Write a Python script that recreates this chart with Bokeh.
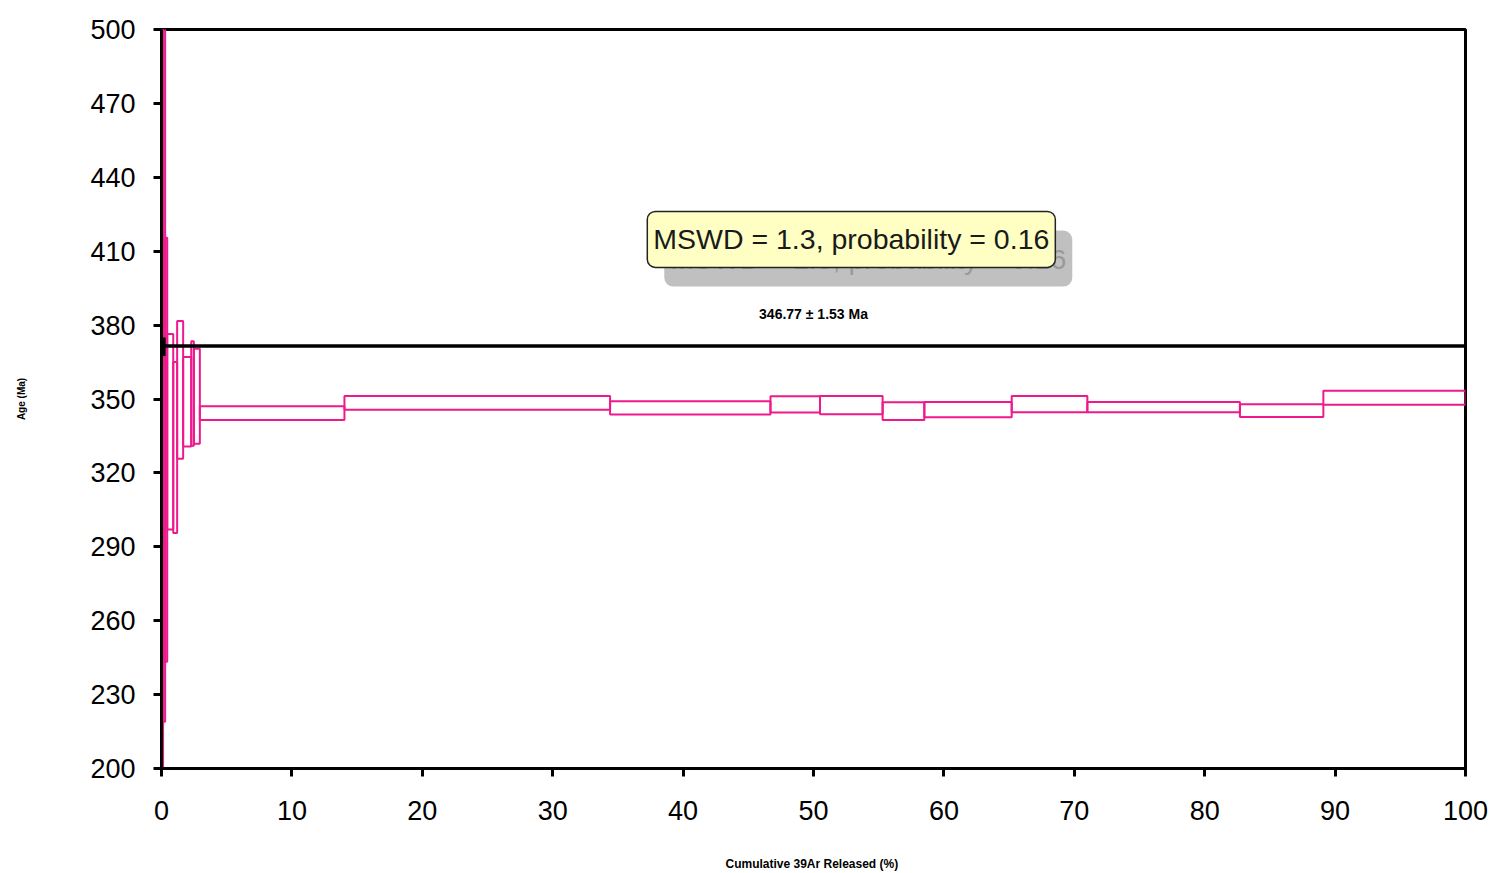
from bokeh.plotting import figure
from bokeh.models import Range1d, FixedTicker, Label
from bokeh.embed import file_html
from bokeh.resources import INLINE

# Incremental heating steps: cumulative 39Ar released (%) boundaries,
# step ages (Ma) and their 2-sigma half-widths (Ma)
step_edges = [0, 0.12, 0.28, 0.44, 0.90, 1.20, 1.66, 2.28, 2.48, 2.94,
              14.03, 34.4, 46.7, 50.5, 55.3, 58.5, 65.2, 71.0, 82.7, 89.1, 100]
step_age = [350.0, 389.5, 329.4, 336.7, 330.3, 353.7, 348.9, 352.2, 351.1,
            344.3, 348.4, 346.4, 347.8, 347.5, 345.1, 345.7, 347.9, 346.7, 345.3, 350.5]
step_err = [300.0, 170.5, 86.1, 39.7, 34.7, 28.0, 18.2, 21.2, 19.3,
            2.8, 2.8, 2.7, 3.3, 3.7, 3.6, 3.1, 3.3, 2.1, 2.6, 2.8]

reference_age = 371.5
plateau_age = 346.77
plateau_err = 1.53
mswd = 1.3
probability = 0.16

x_ticks = [0, 10, 20, 30, 40, 50, 60, 70, 80, 90, 100]
y_ticks = [200, 230, 260, 290, 320, 350, 380, 410, 440, 470, 500]

PINK = "#EE1A8C"
SANS = "Liberation Sans"

p = figure(width=1490, height=873, output_backend="svg", toolbar_location=None,
           x_range=Range1d(0, 100), y_range=Range1d(200, 500),
           min_border_left=161, min_border_right=25, min_border_top=29,
           min_border_bottom=105, background_fill_color="white",
           border_fill_color="white")
p.grid.visible = False
p.outline_line_color = "black"
p.outline_line_width = 3

# step boxes
left = step_edges[:-1]
right = step_edges[1:]
bottom = [a - e for a, e in zip(step_age, step_err)]
top = [a + e for a, e in zip(step_age, step_err)]
p.quad(left=left, right=right, bottom=bottom, top=top,
       fill_alpha=0, line_color=PINK, line_width=2)

# horizontal reference line
p.segment(x0=[0], x1=[100], y0=[reference_age], y1=[reference_age],
          line_color="black", line_width=3.5)
p.segment(x0=[0.2], x1=[0.2], y0=[reference_age - 4], y1=[reference_age + 3.5],
          line_color="black", line_width=3)

# axes
for ax in (p.xaxis[0], p.yaxis[0]):
    ax.axis_line_color = "black"
    ax.axis_line_width = 3
    ax.major_tick_line_color = "black"
    ax.major_tick_line_width = 3
    ax.major_tick_in = 0
    ax.major_tick_out = 8
    ax.minor_tick_line_color = None
    ax.major_label_text_font = SANS
    ax.major_label_text_font_size = "27px"
    ax.major_label_text_color = "black"
    ax.axis_label_text_font = SANS
    ax.axis_label_text_font_style = "bold"
    ax.axis_label_text_color = "black"

p.xaxis[0].ticker = FixedTicker(ticks=x_ticks)
p.yaxis[0].ticker = FixedTicker(ticks=y_ticks)
p.xaxis[0].major_label_standoff = 24
p.yaxis[0].major_label_standoff = 18
p.xaxis[0].axis_label = "Cumulative  39Ar Released (%)"
p.xaxis[0].axis_label_text_font_size = "12px"
p.xaxis[0].axis_label_standoff = 34
p.yaxis[0].axis_label = "Age (Ma)"
p.yaxis[0].axis_label_text_font_size = "10px"
p.yaxis[0].axis_label_standoff = 60

# MSWD callout with a soft drop shadow
stat_text = f"MSWD = {mswd}, probability = {probability}"
SX, SY = 54.2, 407.0
for pad, alpha in (((10, 17), 0.15), ((8, 15), 0.3)):
    p.add_layout(Label(x=SX, y=SY, text=stat_text, text_font=SANS,
                       text_font_size="28.5px", text_alpha=0.0,
                       text_align="center", text_baseline="middle",
                       background_fill_color="#A8A8A8", background_fill_alpha=alpha,
                       border_radius=12, padding=pad))
p.add_layout(Label(x=SX, y=SY, text=stat_text, text_font=SANS,
                   text_font_size="28.5px", text_color="#9A9A9A",
                   text_align="center", text_baseline="middle",
                   background_fill_color="#B0B0B0", background_fill_alpha=0.8,
                   border_radius=9, padding=(6, 12)))
p.add_layout(Label(x=52.9, y=414.8, text=stat_text, text_font=SANS,
                   text_font_size="28.5px", text_color="#1A1A1A",
                   text_align="center", text_baseline="middle",
                   background_fill_color="#FFFFC4", background_fill_alpha=1.0,
                   border_line_color="#222222", border_line_width=1.5,
                   border_radius=8, padding=(6, 12)))

# plateau age annotation
p.add_layout(Label(x=50, y=384.7,
                   text=f"{plateau_age:.2f} \u00b1 {plateau_err:.2f} Ma",
                   text_font=SANS, text_font_style="bold",
                   text_font_size="14px", text_color="black",
                   text_align="center", text_baseline="middle"))

open("out.html", "w").write(file_html(p, INLINE))
